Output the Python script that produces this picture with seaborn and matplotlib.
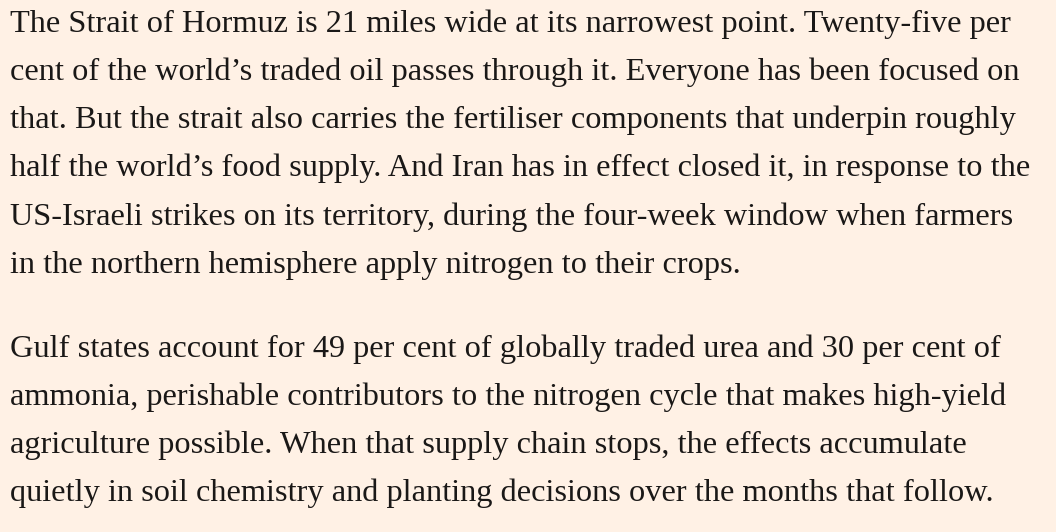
import matplotlib.pyplot as plt
import seaborn as sns

sns.set_theme(style="white")
plt.rcParams['font.family'] = ['Liberation Serif', 'DejaVu Serif']

# text lines, as wrapped in the reference
para1 = [
    "The Strait of Hormuz is 21 miles wide at its narrowest point. Twenty-five per",
    "cent of the world\u2019s traded oil passes through it. Everyone has been focused on",
    "that. But the strait also carries the fertiliser components that underpin roughly",
    "half the world\u2019s food supply. And Iran has in effect closed it, in response to the",
    "US-Israeli strikes on its territory, during the four-week window when farmers",
    "in the northern hemisphere apply nitrogen to their crops.",
]
para2 = [
    "Gulf states account for 49 per cent of globally traded urea and 30 per cent of",
    "ammonia, perishable contributors to the nitrogen cycle that makes high-yield",
    "agriculture possible. When that supply chain stops, the effects accumulate",
    "quietly in soil chemistry and planting decisions over the months that follow.",
]

bg = "#fff1e5"
fig = plt.figure(figsize=(10.56, 5.32), dpi=100, facecolor=bg)
ax = fig.add_axes([0, 0, 1, 1])
ax.set_facecolor(bg)
ax.set_xlim(0, 1056)
ax.set_ylim(532, 0)
ax.axis("off")

line_h = 48.2
for i, t in enumerate(para1):
    ax.text(10, 24 + i * line_h, t, fontsize=23.3, color="#1a1817", va="center", ha="left")
for i, t in enumerate(para2):
    ax.text(10, 349 + i * line_h, t, fontsize=23.3, color="#1a1817", va="center", ha="left")

fig.savefig("out.png", dpi=100, facecolor=bg)
